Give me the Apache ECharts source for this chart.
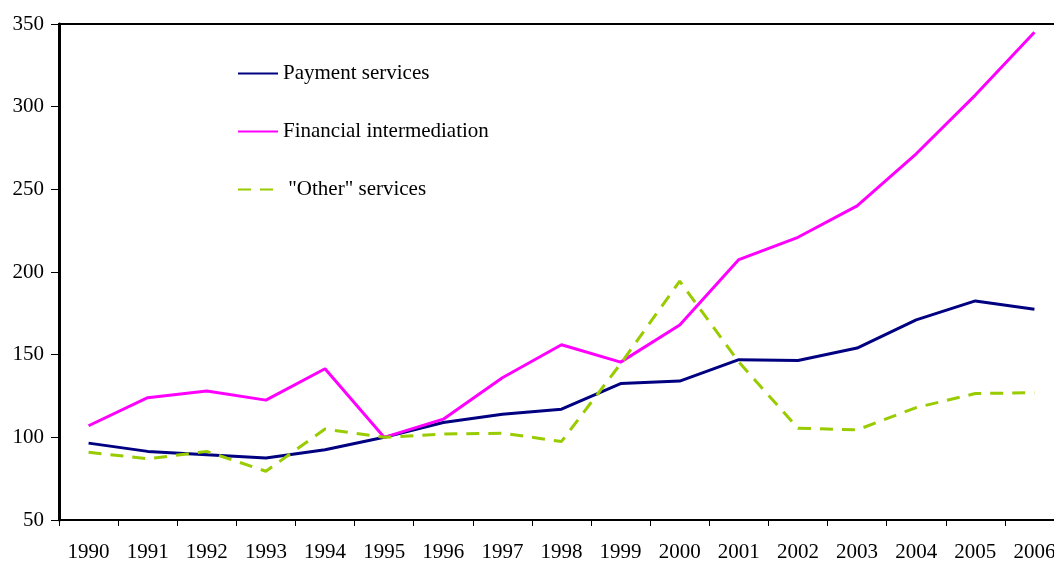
<!DOCTYPE html>
<html>
<head>
<meta charset="utf-8">
<script src="https://cdn.jsdelivr.net/npm/echarts@6/dist/echarts.min.js"></script>
<style>
html,body{margin:0;padding:0;background:#fff;}
#chart{width:1054px;height:561px;}
</style>
</head>
<body>
<div id="chart"></div>
<script>
const years = ['1990','1991','1992','1993','1994','1995','1996','1997','1998','1999','2000','2001','2002','2003','2004','2005','2006'];
const paymentServices = [96.5, 91.5, 89.5, 87.5, 92.5, 100, 109, 114, 117, 132.5, 134, 147, 146.5, 154, 171, 182.5, 177.5];
const financialIntermediation = [107, 124, 128, 122.5, 141.5, 100, 111, 136, 156, 145.5, 168, 207.5, 221, 240, 271.5, 307, 345];
const otherServices = [91, 87, 91.5, 79.5, 105, 100, 102, 102.5, 97.5, 144.5, 194.5, 145.5, 105.5, 104.5, 118, 126.5, 127];
const yTicks = {min: 50, max: 350, interval: 50};

const serif = '"Liberation Serif", "DejaVu Serif", serif';
const chart = echarts.init(document.getElementById('chart'), null, {renderer: 'canvas'});
chart.setOption({
  animation: false,
  backgroundColor: '#ffffff',
  grid: {left: 59, top: 24, width: 1005, height: 496, show: true, borderColor: '#000', borderWidth: 2, backgroundColor: 'transparent', containLabel: false, outerBoundsMode: 'none'},
  legend: {
    orient: 'vertical', left: 237, top: 63, padding: 0, itemWidth: 40, itemHeight: 14, itemGap: 37,
    itemStyle: {opacity: 0},
    textStyle: {fontFamily: serif, fontSize: 21, color: '#000'},
    data: ['Payment services', 'Financial intermediation', ' "Other" services']
  },
  xAxis: {
    type: 'category', data: years, boundaryGap: true,
    axisLine: {lineStyle: {color: '#000', width: 2}},
    axisTick: {show: true, length: 6, lineStyle: {color: '#000', width: 1}},
    axisLabel: {fontFamily: serif, fontSize: 21, color: '#000', margin: 22, interval: 0}
  },
  yAxis: {
    type: 'value', min: yTicks.min, max: yTicks.max, interval: yTicks.interval,
    axisLine: {show: true, lineStyle: {color: '#000', width: 3}},
    axisTick: {show: true, length: 8, lineStyle: {color: '#000', width: 1}},
    splitLine: {show: false},
    axisLabel: {fontFamily: serif, fontSize: 21, color: '#000', margin: 15}
  },
  series: [
    {name: 'Payment services', type: 'line', data: paymentServices, symbol: 'none', color: '#000080',
     lineStyle: {color: '#000080', width: 3}},
    {name: 'Financial intermediation', type: 'line', data: financialIntermediation, symbol: 'none', color: '#FF00FF',
     lineStyle: {color: '#FF00FF', width: 3}},
    {name: ' "Other" services', type: 'line', data: otherServices, symbol: 'none', color: '#99CC00',
     lineStyle: {color: '#99CC00', width: 3, type: [13, 9]}}
  ]
});
</script>
</body>
</html>
